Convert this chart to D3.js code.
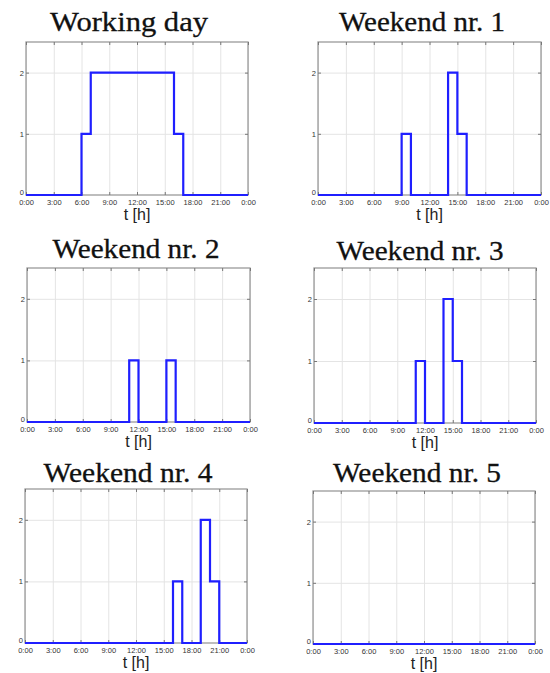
<!DOCTYPE html>
<html>
<head>
<meta charset="utf-8">
<script src="https://cdn.jsdelivr.net/npm/d3@7"></script>
<style>
  body { margin: 0; background: #fff; }
  svg { display: block; }
</style>
</head>
<body>
<script>
// hourly values (value holds from hour h to h+1)
var titles = ["Working day", "Weekend nr. 1", "Weekend nr. 2", "Weekend nr. 3", "Weekend nr. 4", "Weekend nr. 5"];
var workingDay = [0,0,0,0,0,0,1,2,2,2,2,2,2,2,2,2,1,0,0,0,0,0,0,0];
var weekend1   = [0,0,0,0,0,0,0,0,0,1,0,0,0,0,2,1,0,0,0,0,0,0,0,0];
var weekend2   = [0,0,0,0,0,0,0,0,0,0,0,1,0,0,0,1,0,0,0,0,0,0,0,0];
var weekend3   = [0,0,0,0,0,0,0,0,0,0,0,1,0,0,2,1,0,0,0,0,0,0,0,0];
var weekend4   = [0,0,0,0,0,0,0,0,0,0,0,0,0,0,0,0,1,0,0,2,1,0,0,0];
var weekend5   = [0,0,0,0,0,0,0,0,0,0,0,0,0,0,0,0,0,0,0,0,0,0,0,0];
var xTicks = [0,3,6,9,12,15,18,21,24];
var xTickLabels = ["0:00","3:00","6:00","9:00","12:00","15:00","18:00","21:00","0:00"];
var yTicks = [0,1,2];

var series = [workingDay, weekend1, weekend2, weekend3, weekend4, weekend5];

// panel boxes in page pixels
var panels = [
  {x0: 26,  x1: 248, y0: 42,  y1: 195, tx: 129, ty: 31,  tw: 158},
  {x0: 318, x1: 541, y0: 42,  y1: 195, tx: 422, ty: 31,  tw: 166},
  {x0: 27,  x1: 250, y0: 268, y1: 422, tx: 136, ty: 258, tw: 167},
  {x0: 314, x1: 536, y0: 268, y1: 423, tx: 420, ty: 260, tw: 167},
  {x0: 25,  x1: 247, y0: 489, y1: 643, tx: 128, ty: 482, tw: 169},
  {x0: 313, x1: 535, y0: 491, y1: 644, tx: 417, ty: 482, tw: 168}
];

var svg = d3.select("body").append("svg")
  .attr("width", 550)
  .attr("height", 673);

panels.forEach(function(p, k) {
  var w = p.x1 - p.x0, h = p.y1 - p.y0;
  var x = d3.scaleLinear().domain([0, 24]).range([0, w]);
  var y = d3.scaleLinear().domain([0, 2.5]).range([h, 0]);

  // title
  svg.append("text")
    .attr("x", p.tx)
    .attr("y", p.ty)
    .attr("text-anchor", "middle")
    .attr("font-family", "'Liberation Serif', 'Times New Roman', serif")
    .attr("font-size", "27px")
    .attr("textLength", p.tw)
    .attr("lengthAdjust", "spacingAndGlyphs")
    .attr("fill", "#111")
    .attr("stroke", "#111")
    .attr("stroke-width", 0.3)
    .text(titles[k]);

  var g = svg.append("g").attr("transform", "translate(" + p.x0 + "," + p.y0 + ")");

  // grid
  g.append("g").attr("class", "grid")
    .call(d3.axisBottom(x).tickValues(xTicks).tickSize(h).tickFormat(""))
    .call(function(s) { s.select(".domain").remove(); })
    .selectAll("line").attr("stroke", "#e4e4e4").attr("stroke-width", 1);
  g.append("g").attr("class", "grid")
    .call(d3.axisLeft(y).tickValues([1, 2]).tickSize(-w).tickFormat(""))
    .call(function(s) { s.select(".domain").remove(); })
    .selectAll("line").attr("stroke", "#e4e4e4").attr("stroke-width", 1);

  // box
  g.append("rect")
    .attr("width", w).attr("height", h)
    .attr("fill", "none")
    .attr("stroke", "#9a9a9a")
    .attr("stroke-width", 1.3);

  // inward ticks on all sides
  g.append("g").attr("transform", "translate(0," + h + ")")
    .call(d3.axisBottom(x).tickValues(xTicks).tickSize(-3).tickPadding(5)
      .tickFormat(function(d, i) { return xTickLabels[i]; }));
  var yAx = g.append("g")
    .call(d3.axisLeft(y).tickValues(yTicks).tickSize(-3).tickPadding(2).tickFormat(d3.format("d")));
  // the "0" sits just above the first time label
  yAx.selectAll(".tick text").filter(function(d) { return d === 0; }).attr("dy", "-0.05em");
  g.append("g").call(d3.axisTop(x).tickValues(xTicks).tickSize(-3).tickFormat(""));
  g.append("g").attr("transform", "translate(" + w + ",0)")
    .call(d3.axisRight(y).tickValues(yTicks).tickSize(-3).tickFormat(""));

  g.selectAll(".domain").remove();
  g.selectAll(".tick line").attr("stroke", "#777");
  g.selectAll(".grid .tick line").attr("stroke", "#e4e4e4");
  g.selectAll(".tick text")
    .attr("font-family", "'Liberation Sans', Arial, sans-serif")
    .attr("font-size", "7.5px")
    .attr("fill", "#333");

  // x label
  g.append("text")
    .attr("x", w / 2)
    .attr("y", h + 25)
    .attr("text-anchor", "middle")
    .attr("font-family", "'Liberation Sans', Arial, sans-serif")
    .attr("font-size", "16px")
    .attr("fill", "#222")
    .text("t [h]");

  // step line
  var vals = series[k].concat([series[k][series[k].length - 1]]);
  var line = d3.line()
    .x(function(d, i) { return x(i); })
    .y(function(d) { return y(d); })
    .curve(d3.curveStepAfter);
  g.append("path")
    .datum(vals)
    .attr("d", line)
    .attr("fill", "none")
    .attr("stroke", "#1f1fff")
    .attr("stroke-width", 2.2);
});
</script>
</body>
</html>
